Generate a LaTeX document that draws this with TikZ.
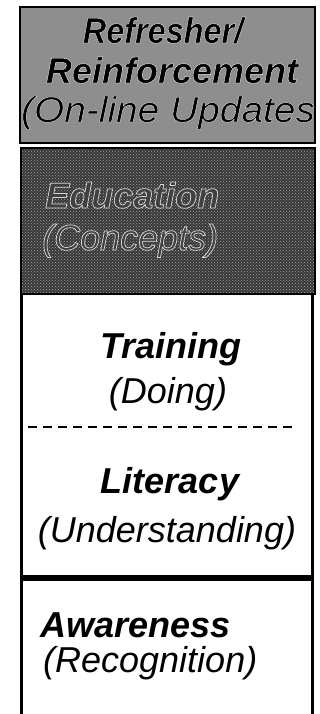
\documentclass[tikz,border=0pt]{standalone}
\usepackage{fontspec}
\setmainfont{Liberation Sans}
\usetikzlibrary{patterns}

\definecolor{refreshgray}{gray}{0.56}
\definecolor{edugray}{gray}{0.22}

\tikzset{
  plain text/.style={inner sep=0pt, font=\fontsize{36}{42}\selectfont\itshape},
  title text/.style={inner sep=0pt, font=\fontsize{36}{42}\selectfont\bfseries\itshape},
  box edge/.style={draw=black, line width=2.5pt},
  side edge/.style={line width=3pt},
}

% outlined text: rim width, fill grey, stroke grey, text
\newcommand\outlined[4]{{\addfontfeatures{FakeBold=#1}%
  \special{pdf:bcolor [#2] [#3]}#4\special{pdf:ecolor}}}

\begin{document}
\begin{tikzpicture}[x=1pt, y=-1pt]
    \useasboundingbox (0,0) rectangle (320,714);

    % refresher box
    \fill[refreshgray] (20,7) rectangle (315,143);
    \fill[pattern=crosshatch dots, pattern color=black!45] (20,7) rectangle (315,143);
    \draw[box edge] (20,7) rectangle (315,143);
    \node[title text, anchor=base, xscale=0.9] (refresher) at (163,43) {\outlined{1}{0}{1}{Refresher/}};
    \node[title text, anchor=base] (reinforce) at (172,83) {\outlined{1}{0}{1}{Reinforcement}};
    \node[plain text, anchor=base, xscale=1.08] (updates) at (168,122) {\outlined{0.8}{0}{1}{(On-line Updates}};

    % education box
    \fill[edugray] (21,148) rectangle (315,294);
    \fill[pattern=crosshatch dots, pattern color=gray!70] (21,148) rectangle (315,294);
    \draw[box edge] (21,148) rectangle (315,294);
    \node[title text, anchor=base west] (education) at (45,208) {\outlined{2}{0.25}{0.85}{Education}};
    \node[plain text, anchor=base west] (concepts) at (42,250) {\outlined{2}{0.25}{0.85}{(Concepts)}};

    % training / literacy box
    \node[title text, anchor=base] (training) at (171,358) {Training};
    \node[plain text, anchor=base] (doing) at (168,403) {(Doing)};
    \draw[line width=2pt, dash pattern=on 9pt off 6pt] (28,427) -- (293,427);
    \node[title text, anchor=base] (literacy) at (170,493) {Literacy};
    \node[plain text, anchor=base] (understanding) at (167,542) {(Understanding)};
    \draw[line width=6pt] (20,578) -- (312,578);

    % awareness box
    \node[title text, anchor=base west] (awareness) at (40,637) {Awareness};
    \node[plain text, anchor=base west] (recognition) at (43,672) {(Recognition)};

    % side lines
    \draw[side edge] (21,295) -- (21,714);
    \draw[side edge] (312.5,295) -- (312.5,714);
\end{tikzpicture}
\end{document}
